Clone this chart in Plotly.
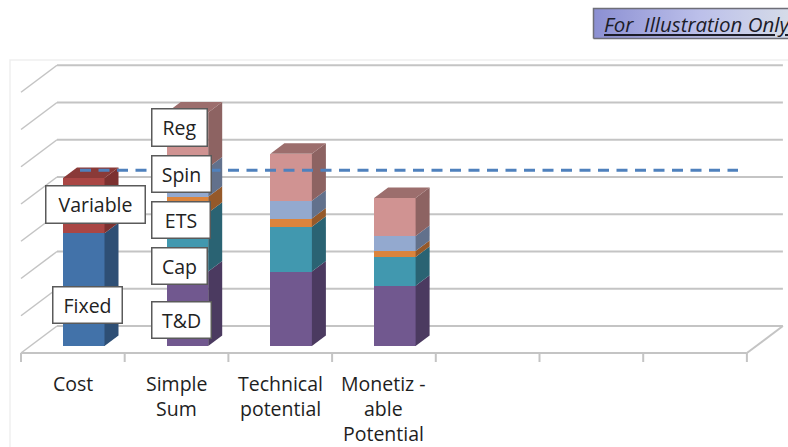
import plotly.graph_objects as go

W, H = 788, 447

# Category labels, one list of text rows per column
categories = [["Cost"], ["Simple", "Sum"], ["Technical", "potential"], ["Monetiz -", "able", "Potential"]]
slots = 7

# Stacked components, in axis units
cost_fixed = [3.03, 0, 0, 0]
cost_variable = [1.48, 0, 0, 0]
td = [0, 2.0, 2.0, 1.62]
cap = [0, 1.58, 1.2, 0.77]
ets = [0, 0.43, 0.22, 0.16]
spin = [0, 0.78, 0.48, 0.4]
reg = [0, 1.48, 1.26, 1.02]
threshold = 4.72
axis_levels = [0, 1, 2, 3, 4, 5, 6, 7]

# name, values, front colour, side colour, top colour
series = [
    ("Fixed", cost_fixed, "#4272a9", "#2e4f75", "#35587f"),
    ("Variable", cost_variable, "#aa4644", "#7c3130", "#8a3a38"),
    ("T&D", td, "#71588f", "#4b3a60", "#574470"),
    ("Cap", cap, "#4198af", "#2a6373", "#307585"),
    ("ETS", ets, "#db843d", "#95592a", "#a8652f"),
    ("Spin", spin, "#93a9cf", "#62718c", "#6f7f9c"),
    ("Reg", reg, "#d09392", "#8d6362", "#9c6e6d"),
]

# Callout boxes: text, left, top, right, bottom
callouts = [
    ("Fixed", 52, 286, 122, 323),
    ("Variable", 45, 185, 145, 223),
    ("T&D", 151, 301, 211, 338),
    ("Cap", 151, 247, 207, 284),
    ("ETS", 151, 201, 210, 238),
    ("Spin", 151, 155, 211, 192),
    ("Reg", 151, 108, 207, 146),
]

# Scale: one slot and one axis unit in pixels, plus the position of the origin
SLOT_PX, UNIT_PX = 103.7, 37.25
X0_PX, Y0_PX = 72.8, 346.0


def dx(px):
    return px / SLOT_PX


def dy(px):
    return px / UNIT_PX


def data_x(px):
    return (px - X0_PX) / SLOT_PX


def data_y(px):
    return (Y0_PX - px) / UNIT_PX


BAR_LEFT = dx(-9.8)
BAR_W = dx(41.5)
DEPTH_X, DEPTH_Y = dx(14), dy(10.5)
FLOOR_FRONT = dy(-7)
FLOOR_BACK = dy(20)
WALL_DX = dx(36)
LEFT = data_x(21)
RIGHT = LEFT + slots
GRID = "#c4c4c4"

fig = go.Figure()

# Front faces are ordinary stacked bars
for name, vals, front, side, top in series:
    fig.add_trace(go.Bar(
        x=list(range(len(vals))), y=vals, name=name, width=BAR_W, offset=BAR_LEFT,
        marker=dict(color=front, line=dict(width=0)), showlegend=False, hoverinfo="skip",
    ))

# Side and top faces extruded from the same stack
for i in range(len(categories)):
    base = 0.0
    last = None
    xr = i + BAR_LEFT + BAR_W
    for name, vals, front, side, top in series:
        v = vals[i]
        if v <= 0:
            continue
        fig.add_trace(go.Scatter(
            x=[xr, xr + DEPTH_X, xr + DEPTH_X, xr, xr],
            y=[base, base + DEPTH_Y, base + v + DEPTH_Y, base + v, base],
            mode="lines", fill="toself", fillcolor=side, line=dict(width=0),
            showlegend=False, hoverinfo="skip",
        ))
        base += v
        last = top
    xl = i + BAR_LEFT
    fig.add_trace(go.Scatter(
        x=[xl, xr, xr + DEPTH_X, xl + DEPTH_X, xl],
        y=[base, base, base + DEPTH_Y, base + DEPTH_Y, base],
        mode="lines", fill="toself", fillcolor=last, line=dict(width=0),
        showlegend=False, hoverinfo="skip",
    ))

# Dashed threshold line
fig.add_trace(go.Scatter(
    x=[data_x(80), data_x(738)], y=[threshold, threshold], mode="lines",
    line=dict(color="#4f81bd", width=3, dash="11px,7.5px"),
    showlegend=False, hoverinfo="skip",
))

# Gradient banner in the top right corner
bx0, bx1, by0, by1 = data_x(593.5), data_x(810), data_y(38.5), data_y(8.5)
fig.add_trace(go.Scatter(
    x=[bx0, bx1, bx1, bx0, bx0], y=[by0, by0, by1, by1, by0],
    mode="lines", fill="toself", line=dict(color="#6e6e78", width=1.5),
    fillgradient=dict(type="horizontal", start=bx0, stop=data_x(788),
                      colorscale=[[0, "#8b8fd2"], [0.55, "#bcc0ea"], [1, "#d5dbe8"]]),
    showlegend=False, hoverinfo="skip",
))

shapes = []


def line(x0, y0, x1, y1, color=GRID, width=2):
    shapes.append(dict(type="line", x0=x0, y0=y0, x1=x1, y1=y1, layer="below",
                       line=dict(color=color, width=width)))


# Chart frame
shapes.append(dict(type="rect", x0=data_x(10), x1=data_x(830), y0=data_y(470), y1=data_y(60),
                   layer="below", line=dict(color="#efefef", width=1.5), fillcolor="white"))

# Back wall gridlines and the left wall diagonals
for lv in axis_levels:
    line(LEFT + WALL_DX, FLOOR_BACK + lv, RIGHT + WALL_DX, FLOOR_BACK + lv)
    line(LEFT, FLOOR_FRONT + lv, LEFT + WALL_DX, FLOOR_BACK + lv, width=1.5)

# Floor edges and category ticks
line(LEFT, FLOOR_FRONT, RIGHT, FLOOR_FRONT)
line(RIGHT, FLOOR_FRONT, RIGHT + WALL_DX, FLOOR_BACK)
for k in range(slots + 1):
    line(LEFT + k, FLOOR_FRONT, LEFT + k, FLOOR_FRONT + dy(-9))

annotations = []

# Category rows are spaced so the third one stays inside the page
for i, rows in enumerate(categories):
    for r, text in enumerate(rows):
        annotations.append(dict(
            x=i, y=data_y(383.5 + 25 * r), xref="x", yref="y", text=text, showarrow=False,
            xanchor="center", yanchor="middle",
            font=dict(family="Open Sans", size=19.5, color="#1e1e1e"),
        ))

for text, l, t, r, b in callouts:
    annotations.append(dict(
        x=data_x((l + r) / 2), y=data_y((t + b) / 2), xref="x", yref="y", text=text,
        showarrow=False, width=r - l - 2, height=b - t - 2, align="center", valign="middle",
        bgcolor="white", bordercolor="#5a5a5a", borderwidth=1.5, borderpad=0,
        font=dict(family="Open Sans", size=19.5, color="#222222"),
    ))

annotations.append(dict(
    x=data_x(602), y=data_y(24), xref="x", yref="y", text="<u><i>For  Illustration Only</i></u>",
    showarrow=False, xanchor="left", yanchor="middle",
    font=dict(family="Open Sans", size=20.5, color="#1c1c28"),
))

fig.update_layout(
    width=W, height=H, margin=dict(l=0, r=0, t=0, b=0),
    paper_bgcolor="white", plot_bgcolor="white", barmode="stack", bargap=0,
    xaxis=dict(visible=False, range=[data_x(0), data_x(W)], fixedrange=True),
    yaxis=dict(visible=False, range=[data_y(H), data_y(0)], fixedrange=True),
    shapes=shapes, annotations=annotations,
)

fig.write_html("out.html", config=dict(displayModeBar=False))
